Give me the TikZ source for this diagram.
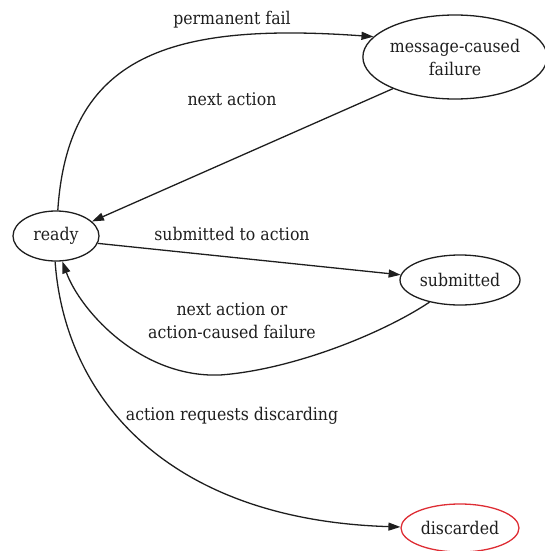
\documentclass[tikz,border=0pt]{standalone}
\usepackage{fontspec}
\setmainfont{DejaVu Serif Condensed}
\usetikzlibrary{shapes.geometric,arrows.meta}
\definecolor{discardred}{RGB}{222,45,52}
\definecolor{ink}{RGB}{30,30,30}
\begin{document}
\begin{tikzpicture}[x=1pt,y=-1pt,
  state/.style={ellipse,draw=ink,line width=1.3pt,inner sep=0pt,align=center,
    text=ink,font=\fontsize{17.5}{23}\selectfont},
  lbl/.style={align=center,inner sep=0pt,text=ink,font=\fontsize{17.5}{23}\selectfont},
  edge/.style={draw=ink,line width=1.3pt,-{Triangle[length=12pt,width=8pt]}}]
  \useasboundingbox (0,0) rectangle (544,551);

  % states
  \node[state,minimum width=86,minimum height=50] (ready) at (56,236) {ready};
  \node[state,minimum width=176,minimum height=84] (msg) at (455,57) {message-caused\\failure};
  \node[state,minimum width=120,minimum height=50] (sub) at (460,280) {submitted};
  \node[state,draw=discardred,minimum width=118,minimum height=48] (disc) at (460,528) {discarded};

  % transitions
  \draw[edge] (ready.86) .. controls (68,55) and (170,22) .. (msg.166);
  \draw[edge] (msg.207) -- (ready.22);
  \draw[edge] (ready.350) -- (sub.175);
  \coordinate (dip) at (220,375);
  \draw[edge] (sub.216) .. controls (380,335) and (290,370) .. (dip)
    .. controls (140,378) and (80,310) .. (ready.284);
  \draw[edge] (ready.268) .. controls (65,400) and (170,520) .. (disc.179);

  % transition labels
  \node[lbl] (lperm) at (232,20) {permanent fail};
  \node[lbl] (lnext) at (232,99) {next action};
  \node[lbl] (lsub) at (232,234) {submitted to action};
  \node[lbl] (lback) at (232,321) {next action or\\action-caused failure};
  \node[lbl] (ldisc) at (232,416) {action requests discarding};
\end{tikzpicture}
\end{document}
